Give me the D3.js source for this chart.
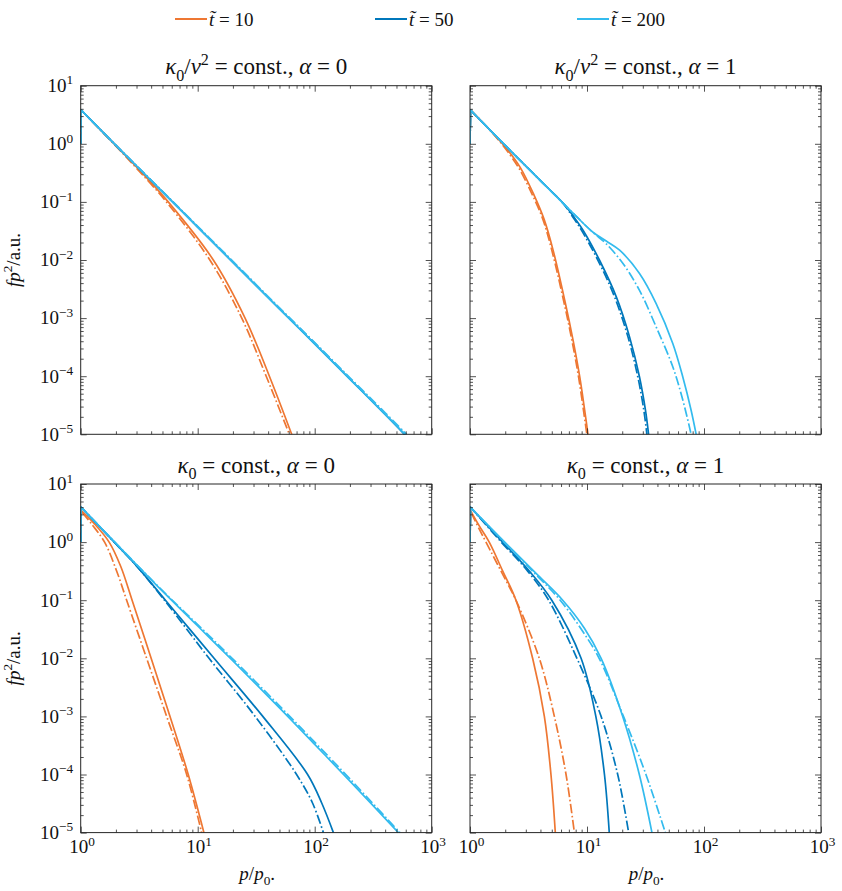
<!DOCTYPE html>
<html><head><meta charset="utf-8">
<script src="https://cdn.jsdelivr.net/npm/d3@7"></script>
<style>
body{margin:0;background:#fff}
svg{display:block}
</style>
</head><body>
<svg id="chart" width="842" height="891"></svg>
<script>
// ---------------- data: [p/p0, f p^2] ----------------
const timeLabels = ["10", "50", "200"];
const xMajor = [1, 10, 100, 1000];
const yMajor = [1e-5, 1e-4, 1e-3, 1e-2, 1e-1, 1, 10];

// top-left: kappa0/v^2 = const., alpha = 0
const tl_t10_solid   = [[1,1.0],[1.01,3.8],[2,0.93],[3,0.4],[5.6,0.1],[13.6,0.01],[25.4,0.001],[41,1e-4],[63.6,1e-5]];
const tl_t10_dashdot = [[1,1.0],[1.01,3.8],[2,0.91],[3,0.38],[5.4,0.1],[12.7,0.01],[23.8,0.001],[38.5,1e-4],[60.7,1e-5]];
const tl_t50_solid   = [[1,1.0],[1.01,3.8],[2,0.936],[5,0.149],[10,0.0369],[20,0.0091],[50,0.00144],[100,3.6e-4],[200,8.9e-5],[400,2.2e-5],[585,1e-5]];
const tl_t50_dashdot = [[1,1.0],[1.01,3.8],[2,0.94],[5,0.15],[10,0.0372],[20,0.0093],[50,0.00147],[100,3.7e-4],[200,9.1e-5],[400,2.25e-5],[595,1e-5]];
const tl_t200_solid  = [[1,1.0],[1.01,3.8],[2,0.936],[5,0.149],[10,0.0369],[20,0.0091],[50,0.00144],[100,3.6e-4],[200,8.9e-5],[400,2.2e-5],[592,1e-5]];
const tl_t200_dashdot= [[1,1.0],[1.01,3.8],[2,0.94],[5,0.152],[10,0.038],[20,0.0095],[50,0.0015],[100,3.8e-4],[200,9.4e-5],[400,2.35e-5],[610,1e-5]];

// top-right: kappa0/v^2 = const., alpha = 1
const tr_t10_solid   = [[1,1.0],[1.01,3.8],[1.6,1.46],[2.08,0.8],[2.7,0.386],[3.52,0.132],[4.3,0.05],[5.13,0.0148],[6.45,0.00203],[7.6,4.17e-4],[8.67,9.7e-5],[9.55,2.6e-5],[10.2,1e-5]];
const tr_t10_dashdot = [[1,1.0],[1.01,3.8],[1.6,1.44],[2.05,0.78],[2.64,0.37],[3.44,0.128],[4.2,0.05],[5.0,0.0148],[6.3,0.00203],[7.43,4.17e-4],[8.47,9.7e-5],[9.33,2.6e-5],[9.97,1e-5]];
const tr_t50_solid   = [[1,1.0],[1.01,3.8],[2,0.936],[4,0.233],[6.45,0.089],[8,0.05],[9.25,0.0326],[12.8,0.0099],[17.8,0.00232],[23.1,4.75e-4],[28.1,9.7e-5],[31.6,2.6e-5],[33.6,1e-5]];
const tr_t50_dashdot = [[1,1.0],[1.01,3.8],[2,0.936],[4,0.233],[6.3,0.092],[7.8,0.05],[8.96,0.0326],[12.4,0.0099],[17.2,0.00232],[22.4,4.75e-4],[27.2,9.7e-5],[30.6,2.6e-5],[32.5,1e-5]];
const tr_t200_solid  = [[1,1.0],[1.01,3.8],[2,0.936],[4,0.233],[8,0.0578],[11.25,0.0300],[14.6,0.0212],[19,0.01476],[28.1,0.00586],[39,0.00178],[54.1,3.66e-4],[65.9,9.7e-5],[77.6,2.6e-5],[85.7,1e-5]];
const tr_t200_dashdot= [[1,1.0],[1.01,3.8],[2,0.936],[4,0.233],[8,0.0578],[11.25,0.0298],[14.6,0.0190],[20.3,0.0087],[28.1,0.003],[39,7.06e-4],[54.1,1.45e-4],[65.9,3.9e-5],[77.6,1e-5]];

// bottom-left: kappa0 = const., alpha = 0
const bl_t10_solid   = [[1,1.0],[1.01,3.48],[1.3,2.1],[1.75,1.0],[2.2,0.38],[2.75,0.1],[4.0,0.01],[5.8,0.001],[8.3,1e-4],[11.3,1e-5]];
const bl_t10_dashdot = [[1,1.0],[1.01,3.4],[1.25,2.0],[1.6,1.0],[2.05,0.3],[2.47,0.1],[3.66,0.01],[5.43,0.001],[8.05,1e-4],[10.8,1e-5]];
const bl_t50_solid   = [[1,1.0],[1.01,3.97],[2,0.93],[3,0.39],[5.3,0.1],[13.8,0.01],[36,0.001],[87,1e-4],[115,3.2e-5],[144.5,1e-5]];
const bl_t50_dashdot = [[1,1.0],[1.01,3.97],[2,0.93],[3,0.39],[5.2,0.1],[12.5,0.01],[31,0.001],[70,1e-4],[96,3.2e-5],[118.6,1e-5]];
const bl_t200_solid  = [[1,1.0],[1.01,3.97],[2,0.95],[5,0.143],[10,0.036],[20,0.009],[50,0.0014],[100,3.3e-4],[200,7.7e-5],[519,1e-5]];
const bl_t200_dashdot= [[1,1.0],[1.01,3.97],[2,0.955],[5,0.146],[10,0.038],[20,0.0097],[50,0.00152],[100,3.6e-4],[200,8.4e-5],[535,1e-5]];

// bottom-right: kappa0 = const., alpha = 1
const br_t10_solid   = [[1,1.0],[1.01,3.48],[1.2,1.9],[1.46,1.0],[1.9,0.32],[2.47,0.1],[3.43,0.01],[4.32,0.001],[4.92,1e-4],[5.36,1e-5]];
const br_t10_dashdot = [[1,1.0],[1.01,3.4],[1.2,1.67],[1.37,1.0],[1.9,0.28],[2.47,0.1],[3.91,0.01],[5.26,0.001],[6.62,1e-4],[7.8,1e-5]];
const br_t50_solid   = [[1,1.0],[1.01,3.97],[1.9,1.0],[3.2,0.32],[5.0,0.1],[8.9,0.01],[11.9,0.001],[14.1,1e-4],[15.5,1e-5]];
const br_t50_dashdot = [[1,1.0],[1.01,3.97],[1.85,1.0],[3.1,0.32],[4.7,0.1],[8.2,0.01],[13.2,0.001],[18.3,1e-4],[22.7,1e-5]];
const br_t200_solid  = [[1,1.0],[1.01,3.97],[1.98,1.0],[3.8,0.27],[6.2,0.1],[9.5,0.033],[13.2,0.01],[20.2,0.001],[28,1e-4],[35.9,1e-5]];
const br_t200_dashdot= [[1,1.0],[1.01,3.97],[1.95,1.0],[3.7,0.27],[5.9,0.1],[9,0.031],[12.7,0.01],[20.5,0.001],[31.9,1e-4],[46.7,1e-5]];

// titles (math pieces: [text, kind])
const titleTop0 = [["κ","i"],["0","sub"],["/","r"],["v","i"],["2","sup"],[" = const., ","r"],["α","i"],[" = 0","r"]];
const titleTop1 = [["κ","i"],["0","sub"],["/","r"],["v","i"],["2","sup"],[" = const., ","r"],["α","i"],[" = 1","r"]];
const titleBot0 = [["κ","i"],["0","sub"],[" = const., ","r"],["α","i"],[" = 0","r"]];
const titleBot1 = [["κ","i"],["0","sub"],[" = const., ","r"],["α","i"],[" = 1","r"]];

// ---------------- drawing ----------------
const colors = ["#EE7733", "#0077BB", "#33BBEE"];
const FONT = "'Liberation Serif', 'Times New Roman', serif";
const svg = d3.select("#chart").style("font-family", FONT);
const PW = 351, PH = 348.6;
const colX = [80.7, 470], rowY = [85.7, 484];

function addMath(textSel, parts, size){
  textSel.style("font-family", FONT).style("font-size", size + "px").attr("fill", "#111");
  let shift = 0;
  parts.forEach(([s, kind]) => {
    const t = textSel.append("tspan").text(s).style("font-family", FONT);
    let target = 0;
    if (kind === "sub") { target = 0.3*size; t.style("font-size", (size*0.7) + "px"); }
    else if (kind === "sup") { target = -0.4*size; t.style("font-size", (size*0.7) + "px"); }
    else if (kind === "i") { t.style("font-style", "italic"); }
    const dy = target - shift;
    if (dy !== 0) t.attr("dy", dy.toFixed(2));
    shift = target;
  });
}

const panels = [
  {col:0,row:0,title:titleTop0,series:[[tl_t10_solid,tl_t10_dashdot],[tl_t50_solid,tl_t50_dashdot],[tl_t200_solid,tl_t200_dashdot]]},
  {col:1,row:0,title:titleTop1,series:[[tr_t10_solid,tr_t10_dashdot],[tr_t50_solid,tr_t50_dashdot],[tr_t200_solid,tr_t200_dashdot]]},
  {col:0,row:1,title:titleBot0,series:[[bl_t10_solid,bl_t10_dashdot],[bl_t50_solid,bl_t50_dashdot],[bl_t200_solid,bl_t200_dashdot]]},
  {col:1,row:1,title:titleBot1,series:[[br_t10_solid,br_t10_dashdot],[br_t50_solid,br_t50_dashdot],[br_t200_solid,br_t200_dashdot]]}
];

function minors(major){
  const out = [];
  for (let i = 0; i < major.length-1; i++) for (let k = 2; k <= 9; k++) out.push(major[i]*k);
  return out;
}
const xMinor = minors(xMajor), yMinor = minors(yMajor);
const expStr = v => { const e = Math.round(Math.log10(v)); return e < 0 ? "−" + (-e) : String(e); };

panels.forEach((pn, idx) => {
  const x0 = colX[pn.col], y0 = rowY[pn.row];
  const x = d3.scaleLog().domain([1, 1000]).range([x0, x0 + PW]);
  const y = d3.scaleLog().domain([1e-5, 10]).range([y0 + PH, y0]);
  const g = svg.append("g");

  const clipId = "clip" + idx;
  svg.append("clipPath").attr("id", clipId).append("rect")
    .attr("x", x0).attr("y", y0 - 1).attr("width", PW).attr("height", PH + 2);

  // curves
  const lineLin = d3.line().x(d => x(d[0])).y(d => y(d[1]));
  const lineSmooth = d3.line().x(d => x(d[0])).y(d => y(d[1])).curve(d3.curveCatmullRom.alpha(0.5));
  const curves = g.append("g").attr("clip-path", `url(#${clipId})`);
  pn.series.forEach((pair, ti) => {
    pair.forEach((data, si) => {
      const path = lineLin(data.slice(0, 2)) + lineSmooth(data.slice(1)).replace(/^M/, "L");
      curves.append("path").attr("d", path)
        .attr("fill", "none").attr("stroke", colors[ti])
        .attr("stroke-width", 1.7).attr("stroke-linejoin", "round")
        .attr("stroke-dasharray", si === 1 ? "9.5,2.6,1.6,2.6" : null);
    });
  });

  // frame
  g.append("rect").attr("x", x0).attr("y", y0).attr("width", PW).attr("height", PH)
    .attr("fill", "none").attr("stroke", "#262626").attr("stroke-width", 1);

  // inward ticks on all sides
  const axes = [
    [d3.axisBottom(x), `translate(0,${y0 + PH})`, xMajor, xMinor],
    [d3.axisTop(x), `translate(0,${y0})`, xMajor, xMinor],
    [d3.axisLeft(y), `translate(${x0},0)`, yMajor, yMinor],
    [d3.axisRight(y), `translate(${x0 + PW},0)`, yMajor, yMinor]
  ];
  axes.forEach(([ax, tr, maj, mnr]) => {
    [[maj, 6], [mnr, 3]].forEach(([vals, len]) => {
      const a = g.append("g").attr("transform", tr)
        .call(ax.tickValues(vals).tickSize(-len).tickFormat(""));
      a.select(".domain").remove();
      a.selectAll("line").attr("stroke", "#262626").attr("stroke-width", 0.8);
    });
  });

  // tick labels
  if (pn.col === 0) {
    yMajor.forEach(v => {
      const t = g.append("text").attr("x", x0 - 7.5).attr("y", y(v) + 6.3)
        .attr("text-anchor", "end");
      addMath(t, [["10", "r"], [expStr(v), "sup"]], 19);
    });
  }
  if (pn.row === 1) {
    xMajor.forEach(v => {
      const t = g.append("text").attr("x", x(v) + 1.5).attr("y", y0 + PH + 20.5)
        .attr("text-anchor", "middle");
      addMath(t, [["10", "r"], [expStr(v), "sup"]], 19);
    });
    const xl = g.append("text").attr("x", x0 + PW/2 + 1).attr("y", y0 + PH + 47)
      .attr("text-anchor", "middle");
    addMath(xl, [["p", "i"], ["/", "r"], ["p", "i"], ["0", "sub"], [".", "r"]], 19);
  }
  if (pn.col === 0) {
    const yl = g.append("text")
      .attr("transform", `translate(${20},${y0 + PH/2}) rotate(-90)`)
      .attr("text-anchor", "middle");
    addMath(yl, [["f", "i"], ["p", "i"], ["2", "sup"], ["/a.u.", "r"]], 19);
  }

  // title
  const tt = g.append("text").attr("x", x0 + PW/2).attr("y", y0 - 11.5)
    .attr("text-anchor", "middle");
  addMath(tt, pn.title, 23);
});

// legend
const legendX = [175, 375, 577];
timeLabels.forEach((lab, i) => {
  const lx = legendX[i];
  svg.append("line").attr("x1", lx).attr("x2", lx + 32).attr("y1", 19).attr("y2", 19)
    .attr("stroke", colors[i]).attr("stroke-width", 2);
  const t = svg.append("text").attr("x", lx + 34).attr("y", 25.5);
  addMath(t, [["t\u0303", "i"], [" = " + lab, "r"]], 19);
});
</script>
</body></html>
